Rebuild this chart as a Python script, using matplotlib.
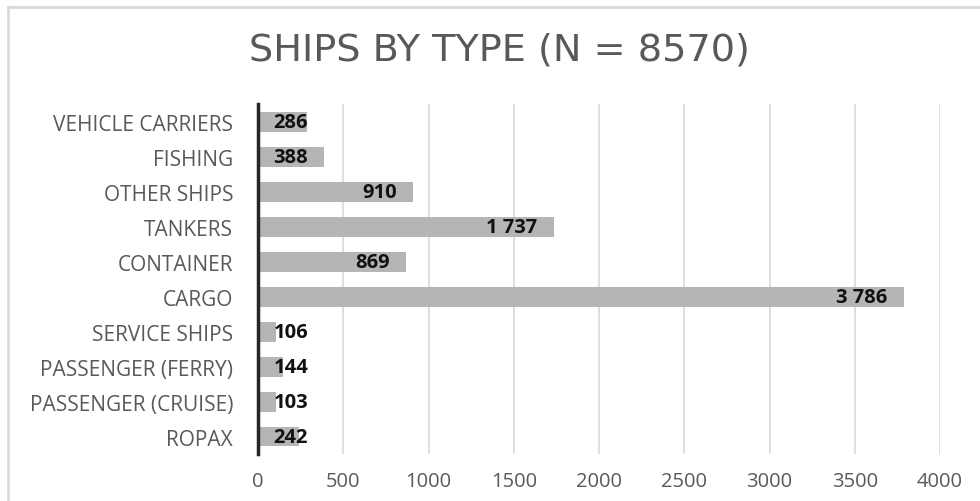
import matplotlib.pyplot as plt
from matplotlib.lines import Line2D

categories = ["VEHICLE CARRIERS", "FISHING", "OTHER SHIPS", "TANKERS", "CONTAINER",
              "CARGO", "SERVICE SHIPS", "PASSENGER (FERRY)", "PASSENGER (CRUISE)", "ROPAX"]
counts = [286, 388, 910, 1737, 869, 3786, 106, 144, 103, 242]
xticks = [0, 500, 1000, 1500, 2000, 2500, 3000, 3500, 4000]
title = "SHIPS BY TYPE (N = 8570)"

text_grey = "#595959"

fig = plt.figure(figsize=(9.8, 5.02), dpi=100)
ax = fig.add_axes([0.2633, 0.0936, 0.696, 0.697])

# categories listed top to bottom
ypos = list(range(len(categories)))[::-1]
ax.barh(ypos, counts, height=0.57, color="#b5b5b5", zorder=2)

for y, v in zip(ypos, counts):
    lbl = f"{v:,}".replace(",", " ")
    if v > 450:
        ax.annotate(lbl, (v, y), xytext=(-12, 0), textcoords="offset points",
                    ha="right", va="center", fontsize=14.5, fontweight="bold",
                    family="Open Sans", color="#111111", zorder=3)
    else:
        ax.annotate(lbl, (0, y), xytext=(11, 0), textcoords="offset points",
                    ha="left", va="center", fontsize=14.5, fontweight="bold",
                    family="Open Sans", color="#111111", zorder=3)

ax.set_xlim(0, 4000)
ax.set_ylim(-0.5, len(categories) - 0.5)
ax.set_xticks(xticks)
ax.set_xticklabels([str(t) for t in xticks], family="Open Sans", fontsize=14.5, color=text_grey)
ax.set_yticks(ypos)
ax.set_yticklabels(categories, family="Open Sans", fontsize=15, color=text_grey)
ax.tick_params(axis="both", length=0)
ax.tick_params(axis="x", pad=12)
ax.tick_params(axis="y", pad=18)

ax.grid(axis="x", color="#d9d9d9", lw=1.2, zorder=0)
for side in ["top", "right", "bottom"]:
    ax.spines[side].set_visible(False)
ax.spines["left"].set_color("#262626")
ax.spines["left"].set_linewidth(2.5)
ax.spines["left"].set_zorder(4)

fig.text(0.51, 0.90, title, ha="center", va="center", fontsize=27.5,
         family="DejaVu Sans", color=text_grey)

# thin frame along top and left edges
fig.add_artist(Line2D([0.008, 1.0], [0.984, 0.984], color="#d9d9d9", lw=2))
fig.add_artist(Line2D([0.008, 0.008], [0.0, 0.984], color="#d9d9d9", lw=2))

fig.savefig("out.png", dpi=100)
